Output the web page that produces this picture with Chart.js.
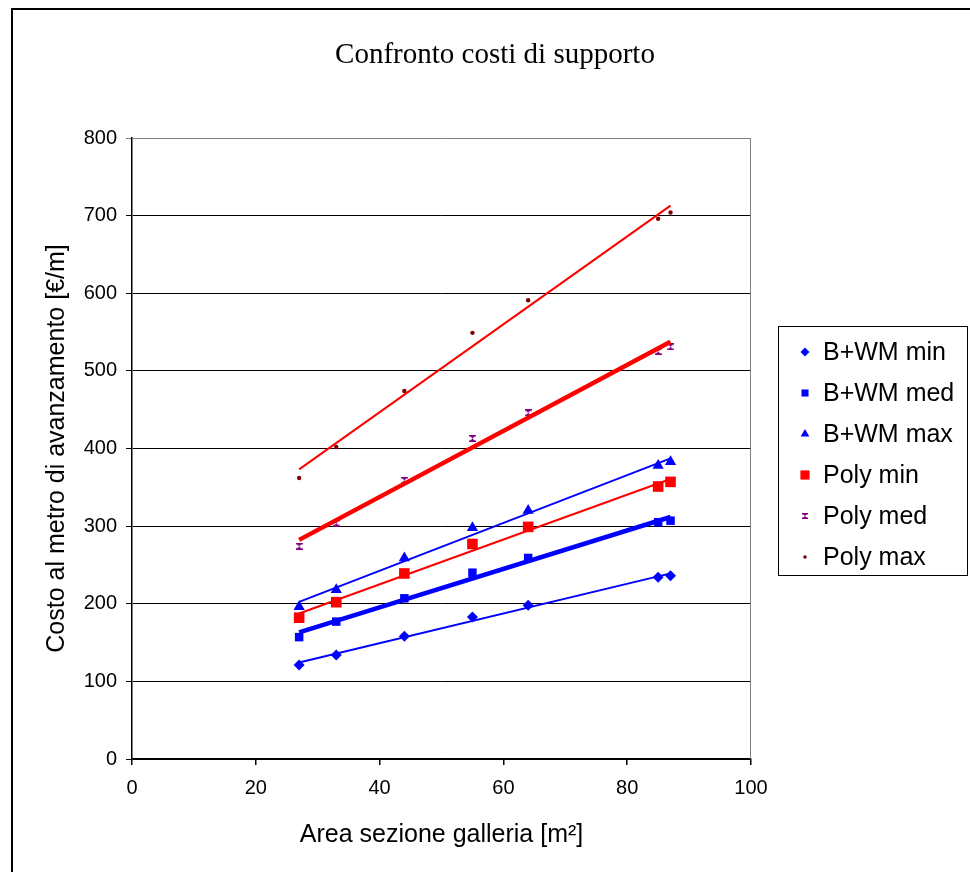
<!DOCTYPE html>
<html>
<head>
<meta charset="utf-8">
<script src="https://cdn.jsdelivr.net/npm/chart.js@4.4.1/dist/chart.umd.min.js"></script>
<style>
  html, body { margin: 0; padding: 0; background: #fff; }
  canvas { display: block; }
</style>
</head>
<body>
<canvas id="chart" width="970" height="872"></canvas>
<script>
// Area sezione galleria [m2]
const areas = [27, 33, 44, 55, 64, 85, 87];

// Costo al metro di avanzamento [€/m]
const bwmMin = [121, 134, 158, 183, 198, 234, 236];
const bwmMed = [157, 177, 207, 240, 259, 305, 307];
const bwmMax = [196, 218, 259, 298, 320, 378, 383];
const polyMin = [182, 202, 239, 277, 299, 351, 357];
const polyMed = [274, 304, 359, 413, 446, 525, 531];
const polyMax = [362, 402, 474, 549, 591, 696, 704];

const seriesNames = ['B+WM min', 'B+WM med', 'B+WM max', 'Poly min', 'Poly med', 'Poly max'];

const xTicks = [0, 20, 40, 60, 80, 100];
const yTicks = [0, 100, 200, 300, 400, 500, 600, 700, 800];

// hourglass marker used for "Poly med"
function hourglass(size) {
    const c = document.createElement('canvas');
    c.width = size; c.height = size;
    const g = c.getContext('2d');
    g.fillStyle = '#800080';
    g.beginPath();
    g.moveTo(0, 0); g.lineTo(size, 0); g.lineTo(size / 2, size / 2); g.lineTo(size, size);
    g.lineTo(0, size); g.lineTo(size / 2, size / 2); g.closePath();
    g.fill();
    g.fillRect(0, 0, size, 1.5);
    g.fillRect(0, size - 1.5, size, 1.5);
    return c;
}

const hgPoint = hourglass(7);
const hgLegend = hourglass(6);

const styles = [
    { color: '#0000FF', point: 'rectRot', radius: 5.5, lr: 4.5, trend: 2 },
    { color: '#0000FF', point: 'rect', radius: 6, lr: 5, trend: 4.5 },
    { color: '#0000FF', point: 'triangle', radius: 6.5, lr: 5, trend: 2 },
    { color: '#FF0000', point: 'rect', radius: 7.5, lr: 6.5, trend: 2 },
    { color: '#800080', point: hgPoint, legendPoint: hgLegend, radius: 3, lr: 3, trend: 4.5, line: '#FF0000' },
    { color: '#800000', point: 'circle', radius: 2.2, lr: 1.8, trend: 2, line: '#FF0000' }
];

const values = [bwmMin, bwmMed, bwmMax, polyMin, polyMed, polyMax];

// least squares trend line over the measured range
function trend(xs, ys) {
    const n = xs.length;
    const mx = xs.reduce((a, b) => a + b, 0) / n;
    const my = ys.reduce((a, b) => a + b, 0) / n;
    let sxy = 0, sxx = 0;
    for (let i = 0; i < n; i++) {
        sxy += (xs[i] - mx) * (ys[i] - my);
        sxx += (xs[i] - mx) * (xs[i] - mx);
    }
    const k = sxy / sxx;
    const x0 = xs[0], x1 = xs[n - 1];
    return [{ x: x0, y: my + k * (x0 - mx) }, { x: x1, y: my + k * (x1 - mx) }];
}

const datasets = [];
values.forEach((ys, i) => {
    const s = styles[i];
    datasets.push({
        label: seriesNames[i],
        data: areas.map((x, j) => ({ x: x, y: ys[j] })),
        pointStyle: s.point,
        pointRadius: s.radius,
        pointHoverRadius: s.radius,
        backgroundColor: s.color,
        borderColor: s.color,
        pointBorderWidth: 0,
        showLine: false,
        order: 1
    });
    datasets.push({
        label: seriesNames[i] + ' trend',
        data: trend(areas, ys),
        showLine: true,
        borderColor: s.line || s.color,
        borderWidth: s.trend,
        pointRadius: 0,
        fill: false,
        isTrend: true,
        order: 0
    });
});

const frame = {
    id: 'frame',
    beforeDraw(chart) {
        const ctx = chart.ctx;
        ctx.save();
        ctx.fillStyle = '#fff';
        ctx.fillRect(0, 0, chart.width, chart.height);
        ctx.strokeStyle = '#000';
        ctx.lineWidth = 2;
        ctx.strokeRect(12, 9, chart.width + 20, chart.height + 20);
        ctx.fillStyle = '#000';
        ctx.font = '29px "Liberation Serif"';
        ctx.textAlign = 'center';
        ctx.textBaseline = 'middle';
        ctx.fillText('Confronto costi di supporto', 495, 55);
        ctx.restore();
    },
    beforeDatasetsDraw(chart) {
        const a = chart.chartArea;
        const ctx = chart.ctx;
        ctx.save();
        ctx.strokeStyle = '#808080';
        ctx.lineWidth = 1;
        ctx.beginPath();
        ctx.moveTo(a.left, a.top + 0.5);
        ctx.lineTo(a.right - 0.5, a.top + 0.5);
        ctx.lineTo(a.right - 0.5, a.bottom);
        ctx.stroke();
        ctx.restore();
    },
    afterDraw(chart) {
        const ctx = chart.ctx;
        ctx.save();
        ctx.strokeStyle = '#000';
        ctx.lineWidth = 1;
        ctx.strokeRect(778.5, 326.5, 189, 249);
        ctx.font = '25px "Liberation Sans"';
        ctx.textBaseline = 'middle';
        ctx.fillStyle = '#000';
        let row = 0;
        chart.data.datasets.forEach(ds => {
            if (ds.isTrend) return;
            const s = styles[row];
            const y = 352 + row * 41;
            ctx.fillStyle = s.color;
            Chart.helpers.drawPoint(ctx, {
                pointStyle: s.legendPoint || s.point,
                radius: s.lr,
                borderWidth: 0,
                rotation: 0
            }, 805, y);
            ctx.fillStyle = '#000';
            ctx.fillText(ds.label, 823, y + 1);
            row++;
        });
        ctx.restore();
    }
};

const ctx = document.getElementById('chart').getContext('2d');
const chart = new Chart(ctx, {
    type: 'scatter',
    data: { datasets: datasets },
    plugins: [frame],
    options: {
        responsive: false,
        animation: false,
        devicePixelRatio: 1,
        layout: { padding: { left: 12, right: 219, top: 138, bottom: 13 } },
        plugins: {
            legend: { display: false },
            title: { display: false },
            tooltip: { enabled: false }
        },
        scales: {
            x: {
                type: 'linear',
                min: 0,
                max: 100,
                afterFit(scale) { scale.height = 100; },
                afterBuildTicks(scale) { scale.ticks = xTicks.map(v => ({ value: v })); },
                border: { display: true, color: '#000', width: 1.5 },
                grid: { drawOnChartArea: false, drawTicks: true, tickLength: 6, color: '#000', lineWidth: 1.5 },
                ticks: {
                    color: '#000',
                    padding: 11,
                    font: { family: 'Liberation Sans', size: 20 }
                },
                title: {
                    display: true,
                    text: 'Area sezione galleria [m²]',
                    color: '#000',
                    padding: { top: 0, bottom: 9 },
                    font: { family: 'Liberation Sans', size: 25, lineHeight: 1.2 }
                }
            },
            y: {
                type: 'linear',
                min: 0,
                max: 800,
                afterFit(scale) { scale.width = 120; },
                afterBuildTicks(scale) { scale.ticks = yTicks.map(v => ({ value: v })); },
                border: { display: true, color: '#000', width: 1.5 },
                grid: {
                    drawTicks: true,
                    tickLength: 6,
                    color: c => (c.tick && c.tick.value === 800 ? '#808080' : '#000'),
                    lineWidth: 1
                },
                ticks: {
                    color: '#000',
                    padding: 9,
                    font: { family: 'Liberation Sans', size: 20 }
                },
                title: {
                    display: true,
                    text: 'Costo al metro di avanzamento [€/m]',
                    color: '#000',
                    padding: { top: 30, bottom: 0 },
                    font: { family: 'Liberation Sans', size: 25, lineHeight: 1.2 }
                }
            }
        }
    }
});
</script>
</body>
</html>
